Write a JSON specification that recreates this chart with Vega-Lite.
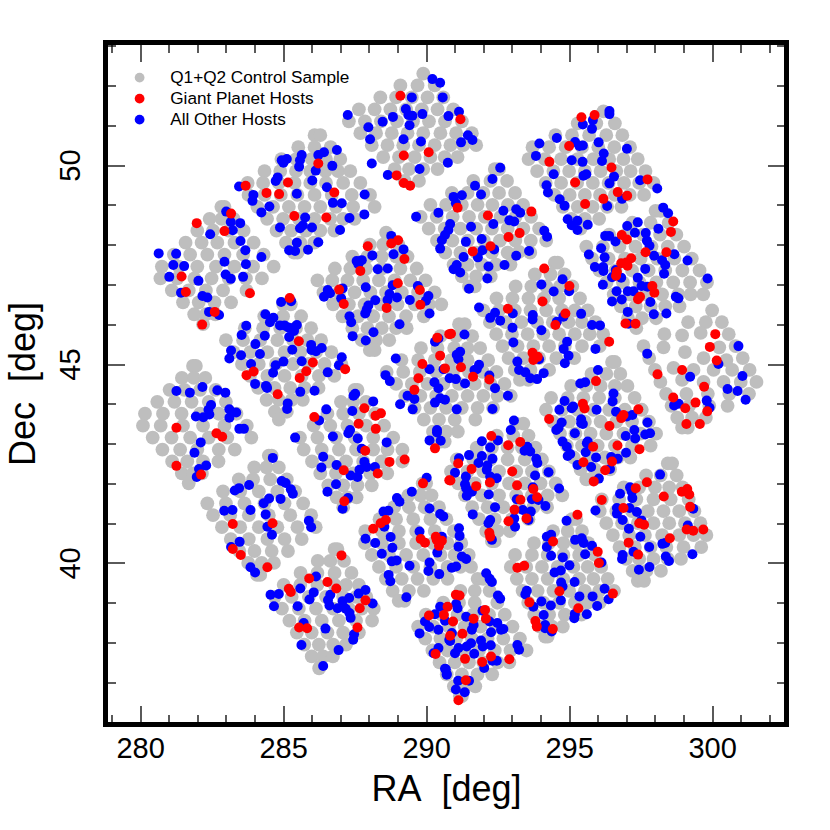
{"$schema":"https://vega.github.io/schema/vega-lite/v6.json","width":681,"height":682,"autosize":{"type":"none"},"padding":{"left":105.5,"top":42.5,"right":43.5,"bottom":105.5},"background":"white","view":{"stroke":"black","strokeWidth":5},"config":{"font":"Liberation Sans","axis":{"grid":false,"domain":false,"tickColor":"black","tickWidth":1.3,"labelColor":"black","titleColor":"black"}},"datasets":{"g":[
{"a":289.9,"d":52.3},{"a":289.1,"d":52.0},{"a":289.7,"d":52.0},{"a":290.3,"d":52.0},{"a":288.4,"d":51.7},{"a":288.95,"d":51.7},{"a":289.5,"d":51.7},{"a":290.05,"d":51.7},{"a":290.6,"d":51.7},{"a":287.65,"d":51.4},{"a":288.2,"d":51.4},{"a":288.75,"d":51.4},{"a":289.3,"d":51.4},{"a":289.85,"d":51.4},{"a":290.4,"d":51.4},{"a":290.95,"d":51.4},{"a":287.3,"d":51.1},{"a":287.86,"d":51.1},{"a":288.42,"d":51.1},{"a":288.98,"d":51.1},{"a":289.54,"d":51.1},{"a":290.1,"d":51.1},{"a":290.66,"d":51.1},{"a":291.25,"d":51.1},{"a":287.7,"d":50.8},{"a":288.25,"d":50.8},{"a":288.8,"d":50.8},{"a":289.35,"d":50.8},{"a":289.9,"d":50.8},{"a":290.5,"d":50.8},{"a":291.05,"d":50.8},{"a":291.6,"d":50.8},{"a":288.1,"d":50.5},{"a":288.65,"d":50.5},{"a":289.2,"d":50.5},{"a":289.75,"d":50.5},{"a":290.3,"d":50.5},{"a":290.85,"d":50.5},{"a":291.3,"d":50.5},{"a":291.75,"d":50.5},{"a":288.5,"d":50.2},{"a":289.05,"d":50.2},{"a":289.6,"d":50.2},{"a":290.15,"d":50.2},{"a":290.65,"d":50.2},{"a":291.1,"d":50.2},{"a":288.9,"d":49.9},{"a":289.4,"d":49.9},{"a":289.9,"d":49.9},{"a":290.4,"d":49.9},{"a":289.25,"d":49.6},{"a":289.75,"d":49.6},
{"a":296.2,"d":51.35},{"a":295.3,"d":51.05},{"a":295.95,"d":51.05},{"a":296.6,"d":51.05},{"a":294.52,"d":50.75},{"a":295.1,"d":50.75},{"a":295.7,"d":50.75},{"a":296.3,"d":50.75},{"a":296.86,"d":50.75},{"a":293.72,"d":50.45},{"a":294.3,"d":50.45},{"a":294.88,"d":50.45},{"a":295.45,"d":50.45},{"a":296.02,"d":50.45},{"a":296.58,"d":50.45},{"a":297.13,"d":50.45},{"a":293.58,"d":50.15},{"a":294.15,"d":50.15},{"a":294.72,"d":50.15},{"a":295.3,"d":50.15},{"a":295.85,"d":50.15},{"a":296.4,"d":50.15},{"a":296.9,"d":50.15},{"a":297.4,"d":50.15},{"a":293.88,"d":49.85},{"a":294.45,"d":49.85},{"a":295.0,"d":49.85},{"a":295.55,"d":49.85},{"a":296.1,"d":49.85},{"a":296.65,"d":49.85},{"a":297.15,"d":49.85},{"a":297.67,"d":49.85},{"a":294.18,"d":49.55},{"a":294.72,"d":49.55},{"a":295.28,"d":49.55},{"a":295.83,"d":49.55},{"a":296.38,"d":49.55},{"a":296.92,"d":49.55},{"a":297.45,"d":49.55},{"a":297.95,"d":49.55},{"a":294.48,"d":49.25},{"a":295.02,"d":49.25},{"a":295.55,"d":49.25},{"a":296.08,"d":49.25},{"a":296.6,"d":49.25},{"a":297.12,"d":49.25},{"a":297.62,"d":49.25},{"a":294.78,"d":48.95},{"a":295.3,"d":48.95},{"a":295.82,"d":48.95},{"a":296.33,"d":48.95},{"a":296.83,"d":48.95},{"a":295.08,"d":48.65},{"a":295.55,"d":48.65},{"a":296.05,"d":48.65},{"a":295.4,"d":48.4},
{"a":298.02,"d":48.85},{"a":298.2,"d":48.85},{"a":297.21,"d":48.55},{"a":297.85,"d":48.55},{"a":298.48,"d":48.55},{"a":296.4,"d":48.25},{"a":296.98,"d":48.25},{"a":297.58,"d":48.25},{"a":298.18,"d":48.25},{"a":298.75,"d":48.25},{"a":295.6,"d":47.95},{"a":296.18,"d":47.95},{"a":296.76,"d":47.95},{"a":297.32,"d":47.95},{"a":297.88,"d":47.95},{"a":298.45,"d":47.95},{"a":299.02,"d":47.95},{"a":295.8,"d":47.65},{"a":296.38,"d":47.65},{"a":296.95,"d":47.65},{"a":297.5,"d":47.65},{"a":298.08,"d":47.65},{"a":298.68,"d":47.65},{"a":299.29,"d":47.65},{"a":296.06,"d":47.35},{"a":296.62,"d":47.35},{"a":297.2,"d":47.35},{"a":297.78,"d":47.35},{"a":298.36,"d":47.35},{"a":298.96,"d":47.35},{"a":299.56,"d":47.35},{"a":296.31,"d":47.05},{"a":296.88,"d":47.05},{"a":297.46,"d":47.05},{"a":298.05,"d":47.05},{"a":298.64,"d":47.05},{"a":299.23,"d":47.05},{"a":299.82,"d":47.05},{"a":296.56,"d":46.75},{"a":297.12,"d":46.75},{"a":297.68,"d":46.75},{"a":298.25,"d":46.75},{"a":298.82,"d":46.75},{"a":299.25,"d":46.75},{"a":299.69,"d":46.75},{"a":296.81,"d":46.45},{"a":297.33,"d":46.45},{"a":297.85,"d":46.45},{"a":298.36,"d":46.45},{"a":298.86,"d":46.45},{"a":297.06,"d":46.15},{"a":297.55,"d":46.15},{"a":298.04,"d":46.15},{"a":297.35,"d":45.9},
{"a":300.0,"d":46.35},{"a":299.16,"d":46.05},{"a":299.78,"d":46.05},{"a":300.34,"d":46.05},{"a":298.33,"d":45.75},{"a":298.95,"d":45.72},{"a":299.6,"d":45.78},{"a":300.58,"d":45.75},{"a":297.6,"d":45.45},{"a":298.3,"d":45.42},{"a":299.05,"d":45.3},{"a":300.25,"d":45.42},{"a":300.82,"d":45.45},{"a":297.8,"d":45.15},{"a":299.7,"d":45.15},{"a":300.5,"d":45.1},{"a":301.07,"d":45.15},{"a":298.0,"d":44.85},{"a":298.65,"d":44.9},{"a":299.35,"d":44.85},{"a":300.05,"d":44.85},{"a":300.7,"d":44.85},{"a":301.31,"d":44.85},{"a":298.19,"d":44.55},{"a":298.95,"d":44.6},{"a":299.7,"d":44.55},{"a":300.4,"d":44.55},{"a":301.0,"d":44.55},{"a":301.55,"d":44.55},{"a":298.39,"d":44.25},{"a":299.1,"d":44.25},{"a":299.85,"d":44.25},{"a":300.6,"d":44.25},{"a":301.29,"d":44.25},{"a":298.58,"d":43.95},{"a":299.2,"d":43.95},{"a":299.9,"d":43.95},{"a":300.54,"d":43.95},{"a":298.78,"d":43.65},{"a":299.3,"d":43.65},{"a":299.78,"d":43.65},{"a":298.95,"d":43.4},{"a":299.15,"d":43.4},
{"a":292.4,"d":49.9},{"a":292.55,"d":49.9},{"a":291.65,"d":49.6},{"a":292.25,"d":49.6},{"a":292.83,"d":49.6},{"a":290.9,"d":49.3},{"a":291.45,"d":49.3},{"a":292.0,"d":49.3},{"a":292.55,"d":49.3},{"a":293.11,"d":49.3},{"a":290.15,"d":49.0},{"a":290.7,"d":49.0},{"a":291.25,"d":49.0},{"a":291.8,"d":49.0},{"a":292.32,"d":49.0},{"a":292.86,"d":49.0},{"a":293.39,"d":49.0},{"a":289.81,"d":48.7},{"a":290.37,"d":48.7},{"a":290.93,"d":48.7},{"a":291.5,"d":48.7},{"a":292.05,"d":48.7},{"a":292.6,"d":48.7},{"a":293.13,"d":48.7},{"a":293.67,"d":48.7},{"a":290.09,"d":48.4},{"a":290.65,"d":48.4},{"a":291.2,"d":48.4},{"a":291.75,"d":48.4},{"a":292.3,"d":48.4},{"a":292.85,"d":48.4},{"a":293.4,"d":48.4},{"a":293.95,"d":48.4},{"a":290.38,"d":48.1},{"a":290.92,"d":48.1},{"a":291.46,"d":48.1},{"a":292.02,"d":48.1},{"a":292.58,"d":48.1},{"a":293.12,"d":48.1},{"a":293.66,"d":48.1},{"a":294.2,"d":48.1},{"a":290.67,"d":47.8},{"a":291.2,"d":47.8},{"a":291.75,"d":47.8},{"a":292.3,"d":47.8},{"a":292.85,"d":47.8},{"a":293.64,"d":47.8},{"a":293.25,"d":47.82},{"a":290.96,"d":47.5},{"a":291.45,"d":47.5},{"a":291.95,"d":47.5},{"a":292.45,"d":47.5},{"a":292.95,"d":47.5},{"a":291.25,"d":47.2},{"a":291.75,"d":47.2},{"a":292.26,"d":47.2},{"a":291.5,"d":46.95},{"a":291.7,"d":46.95},
{"a":286.1,"d":50.75},{"a":286.3,"d":50.75},{"a":285.53,"d":50.45},{"a":286.1,"d":50.45},{"a":286.66,"d":50.45},{"a":284.94,"d":50.15},{"a":285.46,"d":50.15},{"a":286.0,"d":50.15},{"a":286.5,"d":50.15},{"a":287.0,"d":50.15},{"a":284.35,"d":49.85},{"a":284.9,"d":49.85},{"a":285.45,"d":49.85},{"a":285.95,"d":49.85},{"a":286.48,"d":49.85},{"a":286.92,"d":49.85},{"a":287.35,"d":49.85},{"a":283.76,"d":49.55},{"a":284.3,"d":49.55},{"a":284.85,"d":49.55},{"a":285.4,"d":49.55},{"a":285.95,"d":49.55},{"a":286.5,"d":49.55},{"a":287.1,"d":49.55},{"a":287.7,"d":49.55},{"a":283.79,"d":49.25},{"a":284.35,"d":49.25},{"a":284.92,"d":49.25},{"a":285.5,"d":49.25},{"a":286.1,"d":49.25},{"a":286.7,"d":49.25},{"a":287.4,"d":49.25},{"a":288.04,"d":49.25},{"a":284.1,"d":48.95},{"a":284.65,"d":48.95},{"a":285.2,"d":48.95},{"a":285.75,"d":48.95},{"a":286.3,"d":48.95},{"a":286.85,"d":48.95},{"a":287.45,"d":48.95},{"a":288.2,"d":48.95},{"a":284.44,"d":48.65},{"a":285.0,"d":48.65},{"a":285.55,"d":48.65},{"a":286.1,"d":48.65},{"a":286.65,"d":48.65},{"a":287.1,"d":48.65},{"a":287.5,"d":48.65},{"a":284.77,"d":48.35},{"a":285.28,"d":48.35},{"a":285.8,"d":48.35},{"a":286.3,"d":48.35},{"a":286.79,"d":48.35},{"a":285.1,"d":48.05},{"a":285.6,"d":48.05},{"a":286.09,"d":48.05},{"a":285.38,"d":47.8},{"a":285.5,"d":47.8},
{"a":282.84,"d":48.95},{"a":282.95,"d":48.95},{"a":282.43,"d":48.65},{"a":282.85,"d":48.65},{"a":283.27,"d":48.65},{"a":282.0,"d":48.35},{"a":282.55,"d":48.35},{"a":283.1,"d":48.35},{"a":283.62,"d":48.35},{"a":281.59,"d":48.05},{"a":282.15,"d":48.05},{"a":282.7,"d":48.05},{"a":283.3,"d":48.05},{"a":283.97,"d":48.05},{"a":281.18,"d":47.75},{"a":281.75,"d":47.75},{"a":282.35,"d":47.75},{"a":282.95,"d":47.75},{"a":283.6,"d":47.75},{"a":284.32,"d":47.75},{"a":280.76,"d":47.45},{"a":281.35,"d":47.45},{"a":282.0,"d":47.45},{"a":282.65,"d":47.45},{"a":283.3,"d":47.45},{"a":283.95,"d":47.45},{"a":284.67,"d":47.45},{"a":280.71,"d":47.15},{"a":281.3,"d":47.15},{"a":281.9,"d":47.15},{"a":282.5,"d":47.15},{"a":283.1,"d":47.15},{"a":283.7,"d":47.15},{"a":284.26,"d":47.15},{"a":281.11,"d":46.85},{"a":281.7,"d":46.85},{"a":282.3,"d":46.85},{"a":282.9,"d":46.85},{"a":283.72,"d":46.85},{"a":281.5,"d":46.55},{"a":282.05,"d":46.55},{"a":282.6,"d":46.55},{"a":283.18,"d":46.55},{"a":281.89,"d":46.25},{"a":282.3,"d":46.25},{"a":282.63,"d":46.25},{"a":282.2,"d":46.0},
{"a":288.6,"d":48.3},{"a":288.03,"d":48.0},{"a":288.5,"d":48.0},{"a":289.03,"d":48.0},{"a":287.42,"d":47.7},{"a":287.95,"d":47.7},{"a":288.45,"d":47.7},{"a":288.95,"d":47.7},{"a":289.35,"d":47.7},{"a":286.81,"d":47.4},{"a":287.35,"d":47.4},{"a":287.9,"d":47.4},{"a":288.45,"d":47.4},{"a":289.1,"d":47.4},{"a":289.67,"d":47.4},{"a":286.2,"d":47.1},{"a":286.72,"d":47.1},{"a":287.25,"d":47.1},{"a":287.8,"d":47.1},{"a":288.35,"d":47.1},{"a":288.9,"d":47.1},{"a":289.45,"d":47.1},{"a":289.98,"d":47.1},{"a":286.41,"d":46.8},{"a":286.95,"d":46.8},{"a":287.5,"d":46.8},{"a":288.05,"d":46.8},{"a":288.6,"d":46.8},{"a":289.15,"d":46.8},{"a":289.72,"d":46.8},{"a":290.3,"d":46.8},{"a":286.75,"d":46.5},{"a":287.3,"d":46.5},{"a":287.85,"d":46.5},{"a":288.42,"d":46.5},{"a":289.0,"d":46.5},{"a":289.6,"d":46.5},{"a":290.1,"d":46.5},{"a":290.53,"d":46.5},{"a":287.08,"d":46.2},{"a":287.62,"d":46.2},{"a":288.15,"d":46.2},{"a":288.7,"d":46.2},{"a":289.3,"d":46.2},{"a":289.92,"d":46.2},{"a":287.42,"d":45.9},{"a":287.95,"d":45.9},{"a":288.45,"d":45.9},{"a":288.95,"d":45.9},{"a":289.32,"d":45.9},{"a":287.75,"d":45.6},{"a":288.25,"d":45.6},{"a":288.71,"d":45.6},{"a":288.03,"d":45.35},{"a":288.2,"d":45.35},
{"a":294.5,"d":47.55},{"a":294.6,"d":47.55},{"a":293.8,"d":47.25},{"a":294.35,"d":47.25},{"a":294.84,"d":47.25},{"a":293.13,"d":46.95},{"a":293.68,"d":46.95},{"a":294.2,"d":46.95},{"a":294.68,"d":46.95},{"a":295.11,"d":46.95},{"a":292.46,"d":46.65},{"a":293.02,"d":46.65},{"a":293.58,"d":46.65},{"a":294.12,"d":46.65},{"a":294.65,"d":46.65},{"a":295.38,"d":46.65},{"a":292.0,"d":46.35},{"a":292.55,"d":46.35},{"a":293.1,"d":46.35},{"a":293.65,"d":46.35},{"a":294.2,"d":46.35},{"a":294.75,"d":46.35},{"a":295.2,"d":46.35},{"a":295.65,"d":46.35},{"a":292.23,"d":46.05},{"a":292.78,"d":46.05},{"a":293.33,"d":46.05},{"a":293.88,"d":46.05},{"a":294.43,"d":46.05},{"a":294.98,"d":46.05},{"a":295.45,"d":46.05},{"a":295.92,"d":46.05},{"a":292.45,"d":45.75},{"a":293.0,"d":45.75},{"a":293.55,"d":45.75},{"a":294.1,"d":45.75},{"a":294.65,"d":45.75},{"a":295.2,"d":45.75},{"a":295.72,"d":45.75},{"a":296.19,"d":45.75},{"a":292.67,"d":45.45},{"a":293.2,"d":45.45},{"a":293.75,"d":45.45},{"a":294.3,"d":45.45},{"a":294.85,"d":45.45},{"a":295.45,"d":45.45},{"a":296.07,"d":45.45},{"a":292.88,"d":45.15},{"a":293.4,"d":45.15},{"a":293.95,"d":45.15},{"a":294.55,"d":45.15},{"a":295.18,"d":45.15},{"a":293.1,"d":44.85},{"a":293.65,"d":44.85},{"a":294.3,"d":44.85},{"a":293.28,"d":44.6},{"a":293.57,"d":44.6},
{"a":285.0,"d":46.5},{"a":285.27,"d":46.5},{"a":284.34,"d":46.2},{"a":285.0,"d":46.2},{"a":285.63,"d":46.2},{"a":283.66,"d":45.9},{"a":284.3,"d":45.9},{"a":284.9,"d":45.9},{"a":285.45,"d":45.9},{"a":285.98,"d":45.9},{"a":283.0,"d":45.6},{"a":283.6,"d":45.6},{"a":284.2,"d":45.6},{"a":284.8,"d":45.6},{"a":285.35,"d":45.6},{"a":285.85,"d":45.6},{"a":286.33,"d":45.6},{"a":283.27,"d":45.3},{"a":283.85,"d":45.3},{"a":284.45,"d":45.3},{"a":285.05,"d":45.3},{"a":285.6,"d":45.3},{"a":286.15,"d":45.3},{"a":286.69,"d":45.3},{"a":283.56,"d":45.0},{"a":284.15,"d":45.0},{"a":284.75,"d":45.0},{"a":285.35,"d":45.0},{"a":285.9,"d":45.0},{"a":286.45,"d":45.0},{"a":287.04,"d":45.0},{"a":283.84,"d":44.7},{"a":284.45,"d":44.7},{"a":285.05,"d":44.7},{"a":285.65,"d":44.7},{"a":286.25,"d":44.7},{"a":286.79,"d":44.7},{"a":284.13,"d":44.4},{"a":284.7,"d":44.4},{"a":285.25,"d":44.4},{"a":285.75,"d":44.4},{"a":286.24,"d":44.4},{"a":284.42,"d":44.1},{"a":284.85,"d":44.1},{"a":285.3,"d":44.1},{"a":285.69,"d":44.1},{"a":284.71,"d":43.8},{"a":285.13,"d":43.8},{"a":284.85,"d":43.6},
{"a":291.15,"d":46.0},{"a":291.35,"d":46.0},{"a":290.5,"d":45.7},{"a":291.05,"d":45.7},{"a":291.61,"d":45.7},{"a":289.82,"d":45.4},{"a":290.4,"d":45.4},{"a":290.98,"d":45.4},{"a":291.45,"d":45.4},{"a":291.89,"d":45.4},{"a":289.14,"d":45.1},{"a":289.72,"d":45.1},{"a":290.3,"d":45.1},{"a":290.88,"d":45.1},{"a":291.45,"d":45.1},{"a":292.17,"d":45.1},{"a":288.62,"d":44.8},{"a":289.2,"d":44.8},{"a":289.78,"d":44.8},{"a":290.36,"d":44.8},{"a":290.94,"d":44.8},{"a":291.5,"d":44.8},{"a":291.98,"d":44.8},{"a":292.46,"d":44.8},{"a":288.95,"d":44.5},{"a":289.5,"d":44.5},{"a":290.05,"d":44.5},{"a":290.6,"d":44.5},{"a":291.15,"d":44.5},{"a":291.7,"d":44.5},{"a":292.25,"d":44.5},{"a":292.74,"d":44.5},{"a":289.27,"d":44.2},{"a":289.8,"d":44.2},{"a":290.35,"d":44.2},{"a":290.9,"d":44.2},{"a":291.45,"d":44.2},{"a":292.0,"d":44.2},{"a":292.5,"d":44.2},{"a":292.96,"d":44.2},{"a":289.6,"d":43.9},{"a":290.15,"d":43.9},{"a":290.7,"d":43.9},{"a":291.25,"d":43.9},{"a":291.8,"d":43.9},{"a":292.34,"d":43.9},{"a":289.92,"d":43.6},{"a":290.45,"d":43.6},{"a":291.0,"d":43.6},{"a":291.72,"d":43.6},{"a":290.24,"d":43.3},{"a":290.7,"d":43.3},{"a":291.11,"d":43.3},{"a":290.5,"d":43.05},{"a":290.65,"d":43.05},
{"a":296.5,"d":45.05},{"a":296.6,"d":45.05},{"a":295.78,"d":44.75},{"a":296.3,"d":44.75},{"a":296.79,"d":44.75},{"a":295.07,"d":44.45},{"a":295.6,"d":44.45},{"a":296.1,"d":44.45},{"a":296.6,"d":44.45},{"a":297.04,"d":44.45},{"a":294.37,"d":44.15},{"a":294.95,"d":44.15},{"a":295.5,"d":44.15},{"a":296.05,"d":44.15},{"a":296.6,"d":44.15},{"a":297.29,"d":44.15},{"a":294.19,"d":43.85},{"a":294.75,"d":43.85},{"a":295.3,"d":43.85},{"a":295.85,"d":43.85},{"a":296.4,"d":43.85},{"a":296.95,"d":43.85},{"a":297.54,"d":43.85},{"a":294.44,"d":43.55},{"a":295.0,"d":43.55},{"a":295.55,"d":43.55},{"a":296.1,"d":43.55},{"a":296.65,"d":43.55},{"a":297.2,"d":43.55},{"a":297.79,"d":43.55},{"a":294.68,"d":43.25},{"a":295.22,"d":43.25},{"a":295.75,"d":43.25},{"a":296.3,"d":43.25},{"a":296.9,"d":43.25},{"a":297.5,"d":43.25},{"a":298.04,"d":43.25},{"a":294.92,"d":42.95},{"a":295.45,"d":42.95},{"a":296.0,"d":42.95},{"a":296.6,"d":42.95},{"a":297.2,"d":42.95},{"a":297.85,"d":42.95},{"a":295.16,"d":42.65},{"a":295.7,"d":42.65},{"a":296.25,"d":42.65},{"a":296.7,"d":42.65},{"a":297.14,"d":42.65},{"a":295.4,"d":42.35},{"a":295.9,"d":42.35},{"a":296.43,"d":42.35},{"a":295.6,"d":42.1},{"a":295.85,"d":42.1},
{"a":281.85,"d":44.95},{"a":281.95,"d":44.95},{"a":281.46,"d":44.65},{"a":281.88,"d":44.65},{"a":282.28,"d":44.65},{"a":281.03,"d":44.35},{"a":281.55,"d":44.35},{"a":282.1,"d":44.35},{"a":282.64,"d":44.35},{"a":280.6,"d":44.05},{"a":281.2,"d":44.05},{"a":281.8,"d":44.05},{"a":282.4,"d":44.05},{"a":283.0,"d":44.05},{"a":280.17,"d":43.75},{"a":280.8,"d":43.75},{"a":281.45,"d":43.75},{"a":282.1,"d":43.75},{"a":282.75,"d":43.75},{"a":283.37,"d":43.75},{"a":280.1,"d":43.45},{"a":280.72,"d":43.45},{"a":281.5,"d":43.45},{"a":282.2,"d":43.45},{"a":282.95,"d":43.45},{"a":283.73,"d":43.45},{"a":280.44,"d":43.15},{"a":281.1,"d":43.15},{"a":281.75,"d":43.15},{"a":282.4,"d":43.15},{"a":283.05,"d":43.15},{"a":283.89,"d":43.15},{"a":280.78,"d":42.85},{"a":281.4,"d":42.85},{"a":282.0,"d":42.85},{"a":282.75,"d":42.85},{"a":283.31,"d":42.85},{"a":281.12,"d":42.55},{"a":281.65,"d":42.55},{"a":282.2,"d":42.55},{"a":282.74,"d":42.55},{"a":281.46,"d":42.25},{"a":281.85,"d":42.25},{"a":282.16,"d":42.25},{"a":281.7,"d":42.0},
{"a":287.5,"d":44.35},{"a":287.6,"d":44.35},{"a":287.02,"d":44.05},{"a":287.45,"d":44.05},{"a":287.9,"d":44.05},{"a":286.55,"d":43.75},{"a":287.1,"d":43.75},{"a":287.65,"d":43.75},{"a":288.22,"d":43.75},{"a":286.07,"d":43.45},{"a":286.65,"d":43.45},{"a":287.25,"d":43.45},{"a":287.9,"d":43.45},{"a":288.53,"d":43.45},{"a":285.59,"d":43.15},{"a":286.2,"d":43.15},{"a":286.85,"d":43.15},{"a":287.5,"d":43.15},{"a":288.15,"d":43.15},{"a":288.85,"d":43.15},{"a":285.72,"d":42.85},{"a":286.35,"d":42.85},{"a":286.95,"d":42.85},{"a":287.55,"d":42.85},{"a":288.15,"d":42.85},{"a":288.65,"d":42.85},{"a":289.17,"d":42.85},{"a":286.01,"d":42.55},{"a":286.6,"d":42.55},{"a":287.2,"d":42.55},{"a":287.8,"d":42.55},{"a":288.45,"d":42.55},{"a":289.17,"d":42.55},{"a":286.3,"d":42.25},{"a":286.85,"d":42.25},{"a":287.45,"d":42.25},{"a":288.05,"d":42.25},{"a":288.64,"d":42.25},{"a":286.58,"d":41.95},{"a":287.1,"d":41.95},{"a":287.6,"d":41.95},{"a":288.1,"d":41.95},{"a":286.87,"d":41.65},{"a":287.25,"d":41.65},{"a":287.57,"d":41.65},{"a":287.1,"d":41.4},
{"a":293.15,"d":43.5},{"a":293.4,"d":43.5},{"a":292.47,"d":43.2},{"a":293.05,"d":43.2},{"a":293.58,"d":43.2},{"a":291.77,"d":42.9},{"a":292.3,"d":42.9},{"a":292.85,"d":42.9},{"a":293.35,"d":42.9},{"a":293.82,"d":42.9},{"a":291.07,"d":42.6},{"a":291.65,"d":42.6},{"a":292.25,"d":42.6},{"a":292.85,"d":42.6},{"a":293.45,"d":42.6},{"a":294.05,"d":42.6},{"a":290.87,"d":42.3},{"a":291.45,"d":42.3},{"a":292.0,"d":42.3},{"a":292.55,"d":42.3},{"a":293.15,"d":42.3},{"a":293.7,"d":42.3},{"a":294.29,"d":42.3},{"a":291.12,"d":42.0},{"a":291.7,"d":42.0},{"a":292.3,"d":42.0},{"a":292.9,"d":42.0},{"a":293.45,"d":42.0},{"a":294.0,"d":42.0},{"a":294.53,"d":42.0},{"a":291.36,"d":41.7},{"a":291.95,"d":41.7},{"a":292.55,"d":41.7},{"a":293.15,"d":41.7},{"a":293.7,"d":41.7},{"a":294.25,"d":41.7},{"a":294.76,"d":41.7},{"a":291.61,"d":41.4},{"a":292.15,"d":41.4},{"a":292.7,"d":41.4},{"a":293.25,"d":41.4},{"a":293.75,"d":41.4},{"a":294.23,"d":41.4},{"a":291.85,"d":41.1},{"a":292.4,"d":41.1},{"a":293.0,"d":41.1},{"a":293.58,"d":41.1},{"a":292.1,"d":40.8},{"a":292.5,"d":40.8},{"a":292.93,"d":40.8},{"a":292.3,"d":40.55},{"a":292.4,"d":40.55},
{"a":298.45,"d":42.5},{"a":298.6,"d":42.5},{"a":297.69,"d":42.2},{"a":298.2,"d":42.2},{"a":298.76,"d":42.2},{"a":296.91,"d":41.9},{"a":297.45,"d":41.9},{"a":298.0,"d":41.9},{"a":298.5,"d":41.9},{"a":298.97,"d":41.9},{"a":296.14,"d":41.6},{"a":296.75,"d":41.6},{"a":297.35,"d":41.6},{"a":297.95,"d":41.6},{"a":298.55,"d":41.6},{"a":299.18,"d":41.6},{"a":296.07,"d":41.3},{"a":296.65,"d":41.3},{"a":297.2,"d":41.3},{"a":297.75,"d":41.3},{"a":298.3,"d":41.3},{"a":298.85,"d":41.3},{"a":299.38,"d":41.3},{"a":296.3,"d":41.0},{"a":296.85,"d":41.0},{"a":297.4,"d":41.0},{"a":297.95,"d":41.0},{"a":298.5,"d":41.0},{"a":299.05,"d":41.0},{"a":299.59,"d":41.0},{"a":296.53,"d":40.7},{"a":297.1,"d":40.7},{"a":297.65,"d":40.7},{"a":298.25,"d":40.7},{"a":298.85,"d":40.7},{"a":299.35,"d":40.7},{"a":299.8,"d":40.7},{"a":296.76,"d":40.4},{"a":297.3,"d":40.4},{"a":297.85,"d":40.4},{"a":298.4,"d":40.4},{"a":299.0,"d":40.4},{"a":299.62,"d":40.4},{"a":296.99,"d":40.1},{"a":297.45,"d":40.1},{"a":297.95,"d":40.1},{"a":298.45,"d":40.1},{"a":298.91,"d":40.1},{"a":297.22,"d":39.8},{"a":297.7,"d":39.8},{"a":298.21,"d":39.8},{"a":297.4,"d":39.55},{"a":297.62,"d":39.55},
{"a":284.5,"d":42.7},{"a":284.6,"d":42.7},{"a":283.99,"d":42.4},{"a":284.42,"d":42.4},{"a":284.85,"d":42.4},{"a":283.45,"d":42.1},{"a":283.95,"d":42.1},{"a":284.55,"d":42.1},{"a":285.13,"d":42.1},{"a":282.9,"d":41.8},{"a":283.5,"d":41.8},{"a":284.15,"d":41.8},{"a":284.8,"d":41.8},{"a":285.42,"d":41.8},{"a":282.35,"d":41.5},{"a":283.0,"d":41.5},{"a":283.65,"d":41.5},{"a":284.35,"d":41.5},{"a":285.05,"d":41.5},{"a":285.7,"d":41.5},{"a":282.55,"d":41.2},{"a":283.15,"d":41.2},{"a":283.8,"d":41.2},{"a":284.5,"d":41.2},{"a":285.25,"d":41.2},{"a":285.98,"d":41.2},{"a":282.86,"d":40.9},{"a":283.5,"d":40.9},{"a":284.15,"d":40.9},{"a":284.8,"d":40.9},{"a":285.5,"d":40.9},{"a":286.14,"d":40.9},{"a":283.17,"d":40.6},{"a":283.8,"d":40.6},{"a":284.45,"d":40.6},{"a":285.05,"d":40.6},{"a":285.65,"d":40.6},{"a":283.47,"d":40.3},{"a":284.0,"d":40.3},{"a":284.6,"d":40.3},{"a":285.17,"d":40.3},{"a":283.78,"d":40.0},{"a":284.25,"d":40.0},{"a":284.68,"d":40.0},{"a":284.09,"d":39.7},{"a":284.2,"d":39.7},
{"a":289.88,"d":42.0},{"a":290.0,"d":42.0},{"a":289.38,"d":41.7},{"a":289.8,"d":41.7},{"a":290.19,"d":41.7},{"a":288.88,"d":41.4},{"a":289.4,"d":41.4},{"a":289.95,"d":41.4},{"a":290.45,"d":41.4},{"a":288.37,"d":41.1},{"a":288.95,"d":41.1},{"a":289.55,"d":41.1},{"a":290.15,"d":41.1},{"a":290.71,"d":41.1},{"a":287.87,"d":40.8},{"a":288.45,"d":40.8},{"a":289.05,"d":40.8},{"a":289.65,"d":40.8},{"a":290.3,"d":40.8},{"a":290.97,"d":40.8},{"a":287.86,"d":40.5},{"a":288.45,"d":40.5},{"a":289.05,"d":40.5},{"a":289.65,"d":40.5},{"a":290.25,"d":40.5},{"a":290.75,"d":40.5},{"a":291.23,"d":40.5},{"a":288.1,"d":40.2},{"a":288.7,"d":40.2},{"a":289.3,"d":40.2},{"a":289.9,"d":40.2},{"a":290.5,"d":40.2},{"a":291.0,"d":40.2},{"a":291.49,"d":40.2},{"a":288.35,"d":39.9},{"a":288.95,"d":39.9},{"a":289.55,"d":39.9},{"a":290.15,"d":39.9},{"a":290.75,"d":39.9},{"a":291.2,"d":39.9},{"a":291.57,"d":39.9},{"a":288.59,"d":39.6},{"a":289.15,"d":39.6},{"a":289.7,"d":39.6},{"a":290.25,"d":39.6},{"a":290.75,"d":39.6},{"a":288.83,"d":39.3},{"a":289.4,"d":39.3},{"a":289.92,"d":39.3},{"a":289.04,"d":39.05},{"a":289.24,"d":39.05},
{"a":295.1,"d":41.1},{"a":295.25,"d":41.1},{"a":294.44,"d":40.8},{"a":294.95,"d":40.8},{"a":295.45,"d":40.8},{"a":293.77,"d":40.5},{"a":294.3,"d":40.5},{"a":294.8,"d":40.5},{"a":295.25,"d":40.5},{"a":295.67,"d":40.5},{"a":293.11,"d":40.2},{"a":293.7,"d":40.2},{"a":294.25,"d":40.2},{"a":294.8,"d":40.2},{"a":295.35,"d":40.2},{"a":295.9,"d":40.2},{"a":292.96,"d":39.9},{"a":293.5,"d":39.9},{"a":294.05,"d":39.9},{"a":294.6,"d":39.9},{"a":295.15,"d":39.9},{"a":295.65,"d":39.9},{"a":296.12,"d":39.9},{"a":293.17,"d":39.6},{"a":293.7,"d":39.6},{"a":294.25,"d":39.6},{"a":294.8,"d":39.6},{"a":295.35,"d":39.6},{"a":295.85,"d":39.6},{"a":296.35,"d":39.6},{"a":293.37,"d":39.3},{"a":293.9,"d":39.3},{"a":294.45,"d":39.3},{"a":295.0,"d":39.3},{"a":295.55,"d":39.3},{"a":296.05,"d":39.3},{"a":296.57,"d":39.3},{"a":293.57,"d":39.0},{"a":294.1,"d":39.0},{"a":294.65,"d":39.0},{"a":295.2,"d":39.0},{"a":295.65,"d":39.0},{"a":296.07,"d":39.0},{"a":293.78,"d":38.7},{"a":294.3,"d":38.7},{"a":294.85,"d":38.7},{"a":295.43,"d":38.7},{"a":293.98,"d":38.4},{"a":294.4,"d":38.4},{"a":294.78,"d":38.4},{"a":294.16,"d":38.15},{"a":294.25,"d":38.15},
{"a":286.8,"d":40.35},{"a":286.9,"d":40.35},{"a":286.21,"d":40.05},{"a":286.65,"d":40.05},{"a":287.13,"d":40.05},{"a":285.61,"d":39.75},{"a":286.2,"d":39.75},{"a":286.8,"d":39.75},{"a":287.39,"d":39.75},{"a":285.02,"d":39.45},{"a":285.6,"d":39.45},{"a":286.2,"d":39.45},{"a":286.8,"d":39.45},{"a":287.2,"d":39.45},{"a":287.65,"d":39.45},{"a":284.71,"d":39.15},{"a":285.3,"d":39.15},{"a":285.9,"d":39.15},{"a":286.5,"d":39.15},{"a":287.1,"d":39.15},{"a":287.55,"d":39.15},{"a":287.91,"d":39.15},{"a":284.96,"d":38.85},{"a":285.55,"d":38.85},{"a":286.15,"d":38.85},{"a":286.75,"d":38.85},{"a":287.3,"d":38.85},{"a":287.75,"d":38.85},{"a":288.17,"d":38.85},{"a":285.22,"d":38.55},{"a":285.75,"d":38.55},{"a":286.35,"d":38.55},{"a":286.95,"d":38.55},{"a":287.55,"d":38.55},{"a":288.11,"d":38.55},{"a":285.48,"d":38.25},{"a":286.0,"d":38.25},{"a":286.55,"d":38.25},{"a":287.1,"d":38.25},{"a":287.65,"d":38.25},{"a":285.74,"d":37.95},{"a":286.25,"d":37.95},{"a":286.75,"d":37.95},{"a":287.2,"d":37.95},{"a":286.0,"d":37.65},{"a":286.4,"d":37.65},{"a":286.74,"d":37.65},{"a":286.26,"d":37.35},{"a":286.3,"d":37.4},
{"a":291.8,"d":39.6},{"a":292.0,"d":39.6},{"a":291.2,"d":39.3},{"a":291.7,"d":39.3},{"a":292.22,"d":39.3},{"a":290.6,"d":39.0},{"a":291.15,"d":39.0},{"a":291.7,"d":39.0},{"a":292.49,"d":39.0},{"a":289.99,"d":38.7},{"a":290.55,"d":38.7},{"a":291.1,"d":38.7},{"a":291.65,"d":38.7},{"a":292.2,"d":38.7},{"a":292.75,"d":38.7},{"a":289.72,"d":38.4},{"a":290.25,"d":38.4},{"a":290.8,"d":38.4},{"a":291.35,"d":38.4},{"a":291.9,"d":38.4},{"a":292.45,"d":38.4},{"a":293.02,"d":38.4},{"a":289.97,"d":38.1},{"a":290.5,"d":38.1},{"a":291.05,"d":38.1},{"a":291.6,"d":38.1},{"a":292.15,"d":38.1},{"a":292.7,"d":38.1},{"a":293.28,"d":38.1},{"a":290.22,"d":37.8},{"a":290.75,"d":37.8},{"a":291.3,"d":37.8},{"a":291.85,"d":37.8},{"a":292.4,"d":37.8},{"a":292.95,"d":37.8},{"a":293.51,"d":37.8},{"a":290.47,"d":37.5},{"a":291.0,"d":37.5},{"a":291.5,"d":37.5},{"a":292.0,"d":37.5},{"a":292.5,"d":37.5},{"a":292.91,"d":37.5},{"a":290.72,"d":37.2},{"a":291.25,"d":37.2},{"a":291.8,"d":37.2},{"a":292.31,"d":37.2},{"a":290.97,"d":36.9},{"a":291.35,"d":36.9},{"a":291.72,"d":36.9},{"a":291.18,"d":36.65},{"a":291.25,"d":36.65}
],"b":[
{"a":290.22,"d":52.16},{"a":290.49,"d":52.07},{"a":289.5,"d":51.7},{"a":290.58,"d":51.7},{"a":287.26,"d":51.26},{"a":289.29,"d":51.41},{"a":288.84,"d":51.21},{"a":288.48,"d":51.09},{"a":289.38,"d":51.26},{"a":289.52,"d":51.24},{"a":289.87,"d":51.28},{"a":290.78,"d":51.23},{"a":287.98,"d":50.95},{"a":289.42,"d":51.0},{"a":288.04,"d":50.65},{"a":289.21,"d":50.65},{"a":289.82,"d":50.59},{"a":288.1,"d":50.04},{"a":288.66,"d":49.75},{"a":289.77,"d":49.9},{"a":290.76,"d":50.06},{"a":291.15,"d":51.34},{"a":291.46,"d":50.75},{"a":291.62,"d":50.63},{"a":291.22,"d":50.57},
{"a":286.88,"d":50.38},{"a":286.43,"d":50.32},{"a":286.23,"d":50.25},{"a":285.65,"d":50.25},{"a":285.59,"d":50.12},{"a":285.13,"d":50.15},{"a":284.95,"d":50.12},{"a":285.01,"d":50.06},{"a":285.56,"d":49.96},{"a":286.72,"d":49.98},{"a":286.14,"d":49.86},{"a":284.81,"d":49.69},{"a":284.74,"d":49.6},{"a":286.02,"d":49.61},{"a":286.53,"d":49.44},{"a":283.46,"d":49.46},{"a":283.96,"d":49.25},{"a":283.93,"d":49.1},{"a":285.48,"d":49.28},{"a":287.85,"d":49.26},{"a":286.74,"d":49.05},{"a":287.05,"d":49.04},{"a":284.52,"d":48.96},{"a":284.24,"d":48.81},{"a":287.84,"d":48.76},{"a":287.32,"d":48.67},{"a":285.77,"d":48.68},{"a":285.69,"d":48.48},{"a":285.59,"d":48.41},{"a":284.89,"d":48.43},{"a":286.01,"d":48.43},{"a":286.99,"d":48.37},{"a":285.48,"d":48.05},{"a":286.23,"d":48.06},{"a":285.21,"d":47.86},{"a":285.42,"d":47.84},{"a":285.87,"d":47.87},
{"a":283.01,"d":48.83},{"a":283.17,"d":48.57},{"a":283.5,"d":48.54},{"a":283.24,"d":48.36},{"a":282.45,"d":48.26},{"a":283.51,"d":48.09},{"a":283.68,"d":47.86},{"a":280.65,"d":47.78},{"a":281.26,"d":47.77},{"a":284.24,"d":47.69},{"a":282.95,"d":47.57},{"a":283.7,"d":47.51},{"a":281.16,"d":47.49},{"a":281.54,"d":47.46},{"a":281.02,"d":47.19},{"a":282.99,"d":47.25},{"a":283.17,"d":47.14},{"a":283.6,"d":47.19},{"a":282.04,"d":47.09},{"a":281.43,"d":46.79},{"a":282.18,"d":46.71},{"a":282.35,"d":46.67},{"a":282.41,"d":46.31},{"a":282.76,"d":46.23},
{"a":288.78,"d":48.22},{"a":288.12,"d":47.73},{"a":288.86,"d":47.76},{"a":289.21,"d":47.88},{"a":287.57,"d":47.59},{"a":287.75,"d":47.61},{"a":287.63,"d":47.51},{"a":288.31,"d":47.38},{"a":288.66,"d":47.4},{"a":286.56,"d":46.86},{"a":286.43,"d":46.69},{"a":286.64,"d":46.78},{"a":287.08,"d":46.9},{"a":287.89,"d":46.93},{"a":288.83,"d":46.98},{"a":287.03,"d":46.65},{"a":288.72,"d":46.76},{"a":288.65,"d":46.61},{"a":288.98,"d":46.67},{"a":288.22,"d":46.6},{"a":287.98,"d":46.47},{"a":287.92,"d":46.36},{"a":287.87,"d":46.27},{"a":289.43,"d":46.61},{"a":289.71,"d":46.96},{"a":290.08,"d":46.71},{"a":289.99,"d":46.59},{"a":290.12,"d":46.27},{"a":287.32,"d":46.2},{"a":287.38,"d":46.05},{"a":289.07,"d":46.0},{"a":288.16,"d":45.8},{"a":287.43,"d":45.7},{"a":287.89,"d":45.59},
{"a":284.93,"d":46.56},{"a":285.28,"d":46.58},{"a":284.38,"d":46.25},{"a":284.66,"d":46.16},{"a":284.54,"d":46.05},{"a":285.05,"d":45.97},{"a":285.38,"d":45.83},{"a":285.21,"d":45.68},{"a":285.48,"d":45.98},{"a":284.89,"d":45.97},{"a":285.18,"d":45.92},{"a":285.39,"d":45.92},{"a":283.71,"d":45.96},{"a":283.55,"d":45.73},{"a":284.36,"d":45.71},{"a":284.03,"d":45.5},{"a":283.18,"d":45.34},{"a":283.53,"d":45.22},{"a":284.19,"d":45.25},{"a":283.12,"d":45.14},{"a":285.32,"d":45.36},{"a":285.98,"d":45.48},{"a":285.99,"d":45.35},{"a":286.35,"d":45.4},{"a":286.15,"d":45.32},{"a":287.05,"d":45.17},{"a":283.88,"d":45.0},{"a":285.65,"d":45.07},{"a":285.01,"d":45.06},{"a":284.74,"d":44.97},{"a":284.65,"d":44.78},{"a":286.95,"d":44.97},{"a":286.56,"d":44.79},{"a":284.02,"d":44.5},{"a":284.4,"d":44.45},{"a":284.44,"d":44.4},{"a":285.6,"d":44.3},{"a":286.1,"d":44.33},{"a":285.16,"d":44.01},{"a":285.14,"d":43.87},
{"a":281.27,"d":44.32},{"a":281.74,"d":44.28},{"a":282.18,"d":44.42},{"a":282.7,"d":44.34},{"a":282.98,"d":44.28},{"a":282.48,"d":43.97},{"a":282.39,"d":43.85},{"a":283.12,"d":43.86},{"a":283.36,"d":43.78},{"a":281.95,"d":43.68},{"a":282.21,"d":43.66},{"a":282.42,"d":43.73},{"a":283.12,"d":43.65},{"a":283.47,"d":43.37},{"a":283.63,"d":43.37},{"a":282.12,"d":43.03},{"a":281.9,"d":42.77},{"a":282.31,"d":42.45},{"a":282.06,"d":42.36},{"a":281.98,"d":42.16},
{"a":287.52,"d":44.25},{"a":287.46,"d":44.2},{"a":288.15,"d":44.06},{"a":286.51,"d":43.86},{"a":287.42,"d":43.82},{"a":286.26,"d":43.58},{"a":287.34,"d":43.34},{"a":287.28,"d":43.26},{"a":287.61,"d":43.13},{"a":286.74,"d":43.18},{"a":285.42,"d":43.15},{"a":288.62,"d":43.03},{"a":287.75,"d":42.87},{"a":286.4,"d":42.67},{"a":286.87,"d":42.46},{"a":286.34,"d":42.4},{"a":287.84,"d":42.54},{"a":287.92,"d":42.41},{"a":288.21,"d":42.41},{"a":287.67,"d":42.34},{"a":287.36,"d":42.2},{"a":287.6,"d":42.16},{"a":286.85,"d":41.98},{"a":286.55,"d":41.79},{"a":287.27,"d":41.63},{"a":287.08,"d":41.36},
{"a":284.64,"d":42.64},{"a":284.95,"d":42.06},{"a":285.09,"d":42.01},{"a":285.27,"d":41.85},{"a":285.34,"d":41.74},{"a":283.81,"d":41.96},{"a":283.46,"d":41.88},{"a":283.31,"d":41.82},{"a":284.51,"d":41.62},{"a":284.32,"d":41.5},{"a":284.91,"d":41.61},{"a":282.94,"d":41.31},{"a":283.23,"d":41.33},{"a":283.86,"d":41.33},{"a":284.39,"d":41.22},{"a":284.45,"d":40.91},{"a":285.9,"d":41.06},{"a":285.98,"d":40.9},{"a":284.61,"d":40.71},{"a":283.48,"d":40.53},{"a":283.18,"d":40.4},{"a":283.86,"d":39.89},{"a":284.02,"d":39.76},
{"a":286.15,"d":39.66},{"a":285.6,"d":39.36},{"a":286.07,"d":39.26},{"a":284.56,"d":39.2},{"a":284.85,"d":39.22},{"a":284.68,"d":38.91},{"a":285.51,"d":38.91},{"a":285.92,"d":39.08},{"a":286.65,"d":39.2},{"a":286.57,"d":39.07},{"a":286.62,"d":38.93},{"a":286.91,"d":38.86},{"a":287.08,"d":39.04},{"a":287.31,"d":39.12},{"a":287.64,"d":39.23},{"a":287.88,"d":39.32},{"a":288.13,"d":38.98},{"a":287.19,"d":38.85},{"a":287.32,"d":38.74},{"a":287.36,"d":38.62},{"a":285.72,"d":38.49},{"a":286.48,"d":38.35},{"a":287.48,"d":38.21},{"a":287.45,"d":38.07},{"a":285.64,"d":37.94},{"a":286.94,"d":37.81},{"a":286.4,"d":37.41},
{"a":290.02,"d":42.14},{"a":289.5,"d":41.79},{"a":288.98,"d":41.63},{"a":289.07,"d":41.54},{"a":290.12,"d":41.37},{"a":288.51,"d":41.29},{"a":288.68,"d":41.31},{"a":290.49,"d":41.23},{"a":290.6,"d":41.17},{"a":288.54,"d":40.91},{"a":289.77,"d":40.79},{"a":287.88,"d":40.61},{"a":288.22,"d":40.5},{"a":288.76,"d":40.65},{"a":288.82,"d":40.38},{"a":288.45,"d":40.23},{"a":288.8,"d":40.04},{"a":288.97,"d":40.06},{"a":289.42,"d":39.93},{"a":290.12,"d":40.01},{"a":290.08,"d":39.8},{"a":290.46,"d":39.72},{"a":290.39,"d":40.26},{"a":290.55,"d":40.66},{"a":288.69,"d":39.7},{"a":288.75,"d":39.54},{"a":289.31,"d":39.14},{"a":291.15,"d":40.87},{"a":291.17,"d":40.68},{"a":291.13,"d":40.41},{"a":291.25,"d":40.16},{"a":291.4,"d":40.1},{"a":291.05,"d":39.91},{"a":290.9,"d":39.88},
{"a":290.29,"d":44.54},{"a":290.43,"d":44.39},{"a":289.35,"d":44.2},{"a":289.59,"d":44.12},{"a":290.31,"d":44.03},{"a":290.49,"d":44.14},{"a":290.66,"d":44.1},{"a":289.09,"d":43.99},{"a":289.53,"d":43.86},{"a":288.73,"d":44.57},{"a":290.38,"d":43.34},{"a":290.38,"d":43.28},{"a":290.12,"d":43.08},{"a":290.51,"d":43.07},{"a":290.31,"d":45.56},{"a":290.43,"d":45.64},{"a":288.94,"d":45.14},{"a":288.58,"d":44.72},{"a":290.12,"d":44.87},{"a":291.34,"d":45.74},{"a":291.07,"d":45.23},{"a":291.19,"d":45.31},{"a":291.13,"d":45.12},{"a":290.61,"d":44.87},{"a":291.85,"d":44.98},{"a":291.77,"d":44.87},{"a":291.69,"d":44.85},{"a":292.21,"d":44.71},{"a":290.82,"d":44.64},{"a":291.04,"d":44.62},{"a":291.36,"d":44.51},{"a":292.41,"d":44.39},{"a":291.07,"d":43.86},{"a":292.32,"d":43.87},{"a":292.86,"d":44.2},
{"a":292.59,"d":49.93},{"a":292.32,"d":49.65},{"a":291.71,"d":49.48},{"a":291.92,"d":49.26},{"a":290.96,"d":49.2},{"a":291.25,"d":49.24},{"a":291.04,"d":49.04},{"a":292.7,"d":48.85},{"a":293.15,"d":48.89},{"a":293.29,"d":48.8},{"a":292.91,"d":48.61},{"a":293.08,"d":48.58},{"a":292.35,"d":48.52},{"a":290.84,"d":48.52},{"a":290.78,"d":48.37},{"a":291.57,"d":48.45},{"a":290.66,"d":48.24},{"a":290.55,"d":48.11},{"a":294.13,"d":48.35},{"a":294.23,"d":48.2},{"a":291.39,"d":48.07},{"a":291.94,"d":48.14},{"a":292.38,"d":47.88},{"a":291.97,"d":47.86},{"a":291.81,"d":47.68},{"a":291.31,"d":47.69},{"a":290.49,"d":47.9},{"a":293.15,"d":47.72},{"a":293.6,"d":47.84},{"a":292.74,"d":47.49},{"a":292.18,"d":47.45},{"a":291.07,"d":47.49},{"a":290.96,"d":47.38},{"a":291.19,"d":47.3},{"a":292.14,"d":47.15},{"a":291.5,"d":46.89},{"a":289.65,"d":48.7},{"a":290.43,"d":48.8},
{"a":296.41,"d":51.36},{"a":296.41,"d":51.28},{"a":295.83,"d":51.13},{"a":295.48,"d":51.02},{"a":295.8,"d":50.91},{"a":294.57,"d":50.68},{"a":293.96,"d":50.54},{"a":295.21,"d":50.58},{"a":295.36,"d":50.48},{"a":295.48,"d":50.49},{"a":296.03,"d":50.57},{"a":297.02,"d":50.41},{"a":293.84,"d":50.23},{"a":296.21,"d":50.29},{"a":296.15,"d":50.1},{"a":295.09,"d":50.12},{"a":295.47,"d":50.08},{"a":294.46,"d":49.77},{"a":295.6,"d":49.77},{"a":295.5,"d":49.73},{"a":296.57,"d":49.71},{"a":296.41,"d":49.54},{"a":297.48,"d":49.62},{"a":298.08,"d":49.41},{"a":294.21,"d":49.49},{"a":294.26,"d":49.31},{"a":294.67,"d":49.14},{"a":294.84,"d":48.98},{"a":296.85,"d":49.15},{"a":296.33,"d":48.97},{"a":294.95,"d":48.64},{"a":295.29,"d":48.6},{"a":295.09,"d":48.49},{"a":295.29,"d":48.37},{"a":295.65,"d":48.5},
{"a":298.29,"d":48.93},{"a":298.46,"d":48.79},{"a":297.03,"d":48.47},{"a":297.4,"d":48.56},{"a":296.26,"d":48.22},{"a":296.4,"d":48.22},{"a":296.62,"d":48.08},{"a":297.3,"d":48.3},{"a":297.68,"d":48.29},{"a":298.12,"d":48.4},{"a":297.72,"d":48.1},{"a":297.81,"d":47.97},{"a":296.12,"d":47.91},{"a":295.69,"d":47.75},{"a":296.24,"d":47.68},{"a":297.97,"d":47.72},{"a":298.68,"d":47.76},{"a":299.14,"d":47.6},{"a":298.25,"d":47.61},{"a":298.36,"d":47.49},{"a":295.9,"d":47.44},{"a":296.19,"d":47.44},{"a":296.2,"d":47.34},{"a":297.66,"d":47.39},{"a":298.32,"d":47.27},{"a":296.5,"d":47.18},{"a":296.63,"d":47.36},{"a":296.82,"d":47.17},{"a":297.4,"d":47.17},{"a":299.84,"d":47.15},{"a":296.18,"d":46.99},{"a":297.53,"d":46.96},{"a":297.74,"d":46.94},{"a":297.05,"d":46.83},{"a":297.25,"d":46.83},{"a":296.66,"d":46.83},{"a":298.73,"d":46.69},{"a":298.82,"d":46.65},{"a":296.5,"d":46.57},{"a":296.84,"d":46.62},{"a":297.84,"d":46.56},{"a":297.05,"d":46.31},{"a":297.96,"d":46.25},{"a":298.4,"d":46.27},{"a":297.07,"d":46.01},
{"a":294.77,"d":47.13},{"a":294.03,"d":47.0},{"a":294.46,"d":46.82},{"a":295.0,"d":46.83},{"a":291.85,"d":46.42},{"a":292.41,"d":46.29},{"a":292.24,"d":46.16},{"a":292.59,"d":46.09},{"a":293.03,"d":46.27},{"a":293.73,"d":46.23},{"a":293.72,"d":46.12},{"a":295.42,"d":46.26},{"a":294.8,"d":46.19},{"a":294.57,"d":46.06},{"a":293.02,"d":45.91},{"a":294.03,"d":45.85},{"a":295.8,"d":45.98},{"a":296.08,"d":45.97},{"a":293.05,"d":45.54},{"a":294.93,"d":45.56},{"a":294.81,"d":45.38},{"a":295.92,"d":45.38},{"a":294.98,"d":45.21},{"a":294.85,"d":45.02},{"a":293.19,"d":45.06},{"a":293.25,"d":44.85},{"a":293.47,"d":44.79},{"a":293.95,"d":45.12},{"a":293.64,"d":44.64},{"a":293.88,"d":44.62},{"a":294.11,"d":44.77},
{"a":300.92,"d":45.45},{"a":297.73,"d":45.26},{"a":300.22,"d":45.0},{"a":301.06,"d":44.7},{"a":299.23,"d":44.68},{"a":300.54,"d":44.37},{"a":300.89,"d":44.32},{"a":301.17,"d":44.1},{"a":299.81,"d":44.08},{"a":299.91,"d":43.9},{"a":298.83,"d":44.0},{"a":298.67,"d":43.96},
{"a":296.01,"d":44.85},{"a":295.39,"d":44.51},{"a":295.56,"d":44.54},{"a":296.55,"d":44.26},{"a":296.52,"d":44.06},{"a":294.84,"d":44.07},{"a":295.14,"d":43.93},{"a":295.09,"d":43.89},{"a":294.66,"d":43.85},{"a":295.96,"d":43.85},{"a":296.64,"d":43.8},{"a":295.42,"d":43.61},{"a":295.48,"d":43.49},{"a":294.74,"d":43.53},{"a":294.63,"d":43.39},{"a":294.55,"d":43.34},{"a":295.2,"d":43.26},{"a":297.21,"d":43.72},{"a":297.02,"d":43.68},{"a":297.74,"d":43.53},{"a":297.28,"d":43.34},{"a":296.98,"d":43.19},{"a":297.31,"d":43.13},{"a":297.83,"d":43.26},{"a":297.66,"d":43.23},{"a":294.77,"d":43.05},{"a":294.92,"d":42.92},{"a":295.65,"d":43.05},{"a":295.58,"d":42.78},{"a":296.99,"d":42.77},{"a":295.94,"d":42.65},{"a":295.04,"d":42.74},{"a":294.95,"d":42.69},{"a":296.47,"d":42.66},{"a":296.7,"d":42.62},{"a":295.29,"d":42.46},{"a":295.77,"d":42.41},{"a":296.43,"d":42.36},{"a":296.04,"d":42.12},{"a":295.42,"d":43.51},{"a":295.62,"d":43.01},
{"a":293.07,"d":43.58},{"a":292.96,"d":43.34},{"a":292.51,"d":43.08},{"a":291.95,"d":43.06},{"a":292.24,"d":42.9},{"a":291.5,"d":42.71},{"a":291.95,"d":42.69},{"a":292.32,"d":42.62},{"a":291.83,"d":42.51},{"a":291.15,"d":42.63},{"a":292.14,"d":42.45},{"a":292.12,"d":42.34},{"a":291.01,"d":42.27},{"a":293.54,"d":42.92},{"a":293.44,"d":42.82},{"a":293.64,"d":42.8},{"a":293.85,"d":42.62},{"a":293.89,"d":42.51},{"a":294.28,"d":42.28},{"a":293.81,"d":42.2},{"a":292.47,"d":42.13},{"a":292.24,"d":42.17},{"a":291.39,"d":42.17},{"a":291.36,"d":41.98},{"a":291.4,"d":41.88},{"a":291.6,"d":41.79},{"a":291.42,"d":41.69},{"a":294.65,"d":41.87},{"a":293.73,"d":41.9},{"a":292.19,"d":41.72},{"a":293.7,"d":41.6},{"a":293.93,"d":41.58},{"a":294.17,"d":41.43},{"a":292.41,"d":41.4},{"a":293.17,"d":41.6},{"a":291.63,"d":41.22},{"a":293.38,"d":41.33},{"a":293.66,"d":41.29},{"a":292.24,"d":41.08},{"a":292.18,"d":41.0},{"a":293.58,"d":41.08},{"a":293.08,"d":41.12},{"a":293.11,"d":40.91},{"a":292.3,"d":40.58},
{"a":298.18,"d":42.22},{"a":297.13,"d":41.9},{"a":296.78,"d":41.74},{"a":297.19,"d":41.79},{"a":297.21,"d":41.63},{"a":296.67,"d":41.38},{"a":297.11,"d":41.38},{"a":297.37,"d":41.28},{"a":296.67,"d":41.24},{"a":295.92,"d":41.32},{"a":296.87,"d":41.08},{"a":297.53,"d":41.07},{"a":297.09,"d":40.86},{"a":297.49,"d":40.66},{"a":299.15,"d":40.94},{"a":299.34,"d":41.36},{"a":298.26,"d":40.48},{"a":298.36,"d":40.5},{"a":297.8,"d":40.4},{"a":297.25,"d":40.28},{"a":296.87,"d":40.2},{"a":296.85,"d":40.1},{"a":298.38,"d":40.16},{"a":298.49,"d":40.05},{"a":299.31,"d":40.22},{"a":297.44,"d":39.83},{"a":297.81,"d":39.9},
{"a":294.91,"d":41.06},{"a":294.22,"d":40.66},{"a":294.37,"d":40.71},{"a":294.22,"d":40.4},{"a":295.21,"d":40.58},{"a":295.44,"d":40.62},{"a":295.51,"d":40.5},{"a":295.8,"d":40.43},{"a":295.56,"d":40.22},{"a":294.37,"d":40.18},{"a":294.78,"d":40.14},{"a":295.01,"d":39.94},{"a":294.71,"d":39.81},{"a":294.49,"d":39.76},{"a":294.72,"d":39.51},{"a":294.77,"d":39.41},{"a":295.19,"d":39.52},{"a":293.52,"d":39.3},{"a":293.47,"d":39.21},{"a":296.24,"d":39.35},{"a":296.13,"d":40.01},{"a":295.82,"d":39.16},{"a":296.38,"d":39.09},{"a":295.36,"d":39.16},{"a":294.71,"d":39.06},{"a":294.03,"d":39.03},{"a":293.75,"d":38.9},{"a":294.36,"d":38.93},{"a":295.98,"d":38.92},{"a":295.62,"d":38.71},{"a":295.2,"d":38.72},{"a":295.18,"d":38.61},{"a":294.11,"d":38.69},{"a":294.16,"d":38.44},{"a":294.16,"d":38.36},{"a":294.39,"d":38.28},
{"a":292.1,"d":39.74},{"a":292.22,"d":39.6},{"a":292.3,"d":39.52},{"a":292.51,"d":39.18},{"a":292.59,"d":39.1},{"a":291.4,"d":38.65},{"a":291.1,"d":38.86},{"a":291.05,"d":38.97},{"a":291.97,"d":38.8},{"a":292.22,"d":38.53},{"a":292.49,"d":38.49},{"a":292.7,"d":38.34},{"a":292.62,"d":38.32},{"a":291.6,"d":38.32},{"a":291.66,"d":38.44},{"a":292.27,"d":38.26},{"a":290.9,"d":38.24},{"a":290.84,"d":38.04},{"a":291.57,"d":37.98},{"a":291.92,"d":38.05},{"a":291.98,"d":37.9},{"a":292.26,"d":37.93},{"a":293.19,"d":37.94},{"a":293.25,"d":37.82},{"a":291.42,"d":37.9},{"a":291.13,"d":37.86},{"a":291.01,"d":37.73},{"a":291.68,"d":37.72},{"a":292.32,"d":37.54},{"a":292.47,"d":37.54},{"a":292.03,"d":37.36},{"a":290.69,"d":37.33},{"a":290.72,"d":37.21},{"a":291.12,"d":37.04},{"a":291.5,"d":37.04},{"a":291.04,"d":36.82},{"a":291.35,"d":36.75},
{"a":290.49,"d":38.9},{"a":290.31,"d":38.71},{"a":289.96,"d":38.53},{"a":290.11,"d":38.39},{"a":290.43,"d":38.32},{"a":290.66,"d":38.55},{"a":289.77,"d":38.23},{"a":290.43,"d":37.86},{"a":290.26,"d":37.73},{"a":290.66,"d":37.34},{"a":290.72,"d":37.19},{"a":290.81,"d":38.07}
],"r":[
{"a":289.1,"d":51.74},{"a":289.22,"d":50.24},{"a":290.09,"d":50.32},{"a":288.97,"d":49.74},{"a":289.22,"d":49.55},{"a":289.44,"d":49.48},{"a":291.2,"d":51.15},
{"a":286.23,"d":50.04},{"a":283.69,"d":49.48},{"a":285.17,"d":49.56},{"a":284.42,"d":49.3},{"a":284.86,"d":49.27},{"a":286.79,"d":49.31},{"a":285.39,"d":48.72},{"a":286.51,"d":48.68},
{"a":283.18,"d":48.78},{"a":281.98,"d":48.54},{"a":282.95,"d":48.34},{"a":281.45,"d":47.2},{"a":281.6,"d":46.81},{"a":283.84,"d":46.78},{"a":282.61,"d":46.31},{"a":282.17,"d":45.99},
{"a":287.96,"d":47.96},{"a":288.78,"d":48.03},{"a":289.02,"d":48.11},{"a":289.24,"d":47.64},{"a":287.7,"d":47.34},{"a":289.01,"d":47.03},{"a":286.96,"d":46.87},{"a":287.12,"d":46.51},{"a":288.62,"d":46.41},{"a":289.78,"d":46.86},{"a":289.8,"d":46.49},
{"a":285.23,"d":46.66},{"a":285.55,"d":45.57},{"a":286.04,"d":45.04},{"a":283.97,"d":44.81},{"a":285.81,"d":44.82},{"a":283.72,"d":44.72},{"a":287.17,"d":44.87},{"a":285.58,"d":44.65},{"a":284.81,"d":44.24},
{"a":281.27,"d":43.4},{"a":282.67,"d":43.26},{"a":282.87,"d":43.17},{"a":281.27,"d":42.44},{"a":282.13,"d":42.22},
{"a":287.84,"d":43.89},{"a":288.42,"d":43.76},{"a":288.23,"d":43.7},{"a":287.64,"d":43.5},{"a":288.24,"d":43.37},{"a":286.09,"d":43.67},{"a":287.87,"d":42.82},{"a":288.72,"d":42.54},{"a":289.25,"d":42.6},{"a":287.12,"d":42.33},{"a":288.31,"d":42.25},{"a":287.14,"d":41.55},
{"a":283.24,"d":40.98},{"a":284.63,"d":41.0},{"a":283.24,"d":40.35},{"a":283.52,"d":40.2},{"a":284.45,"d":39.89},
{"a":287.04,"d":40.19},{"a":285.91,"d":39.61},{"a":286.55,"d":39.52},{"a":286.86,"d":39.36},{"a":285.2,"d":39.35},{"a":285.27,"d":39.27},{"a":287.88,"d":39.06},{"a":287.68,"d":38.86},{"a":285.56,"d":38.38},{"a":285.84,"d":38.36},{"a":287.6,"d":38.38},
{"a":289.89,"d":42.0},{"a":290.81,"d":42.08},{"a":288.15,"d":40.86},{"a":288.41,"d":41.0},{"a":288.59,"d":41.08},{"a":289.81,"d":40.6},{"a":289.96,"d":40.51},{"a":290.34,"d":40.66},{"a":290.55,"d":40.56},{"a":290.37,"d":40.58},{"a":290.45,"d":40.43},
{"a":290.39,"d":45.66},{"a":290.81,"d":45.75},{"a":290.49,"d":45.21},{"a":289.87,"d":45.0},{"a":290.66,"d":44.89},{"a":289.73,"d":44.64},{"a":289.59,"d":44.35},{"a":290.31,"d":42.88},{"a":290.87,"d":45.76},{"a":291.22,"d":44.92},{"a":291.64,"d":44.68},{"a":292.21,"d":44.61},
{"a":291.1,"d":48.93},{"a":292.16,"d":48.73},{"a":293.68,"d":48.83},{"a":292.88,"d":48.19},{"a":293.27,"d":48.29},{"a":292.25,"d":47.96},{"a":291.63,"d":47.83},
{"a":295.43,"d":51.2},{"a":295.89,"d":51.26},{"a":295.0,"d":50.48},{"a":294.31,"d":50.08},{"a":296.48,"d":49.94},{"a":295.21,"d":49.56},{"a":297.74,"d":49.64},{"a":296.7,"d":49.32},{"a":297.03,"d":49.23},{"a":296.2,"d":49.15},{"a":295.56,"d":49.02},
{"a":298.64,"d":48.58},{"a":298.56,"d":48.32},{"a":296.84,"d":48.24},{"a":297.02,"d":48.13},{"a":297.67,"d":47.81},{"a":298.4,"d":47.81},{"a":297.17,"d":47.66},{"a":296.82,"d":47.53},{"a":297.0,"d":47.55},{"a":297.04,"d":47.47},{"a":296.67,"d":47.32},{"a":296.64,"d":47.22},{"a":297.91,"d":46.96},{"a":297.98,"d":46.79},{"a":297.48,"d":46.69},{"a":297.41,"d":46.63},{"a":296.97,"d":46.02},{"a":297.32,"d":46.01},
{"a":294.13,"d":47.4},{"a":295.01,"d":46.96},{"a":294.07,"d":46.57},{"a":292.86,"d":46.39},{"a":294.87,"d":46.27},{"a":294.52,"d":45.98},{"a":296.4,"d":45.56},{"a":293.72,"d":45.28},{"a":293.9,"d":45.18},{"a":293.75,"d":45.1},
{"a":300.11,"d":45.75},{"a":299.92,"d":45.43},{"a":300.16,"d":45.09},{"a":298.09,"d":44.74},{"a":298.95,"d":44.85},{"a":299.72,"d":44.43},{"a":298.64,"d":44.16},{"a":299.42,"d":44.03},{"a":299.06,"d":43.89},{"a":299.83,"d":43.81},{"a":299.1,"d":43.49},{"a":299.57,"d":43.49},
{"a":295.94,"d":44.57},{"a":295.48,"d":44.0},{"a":295.54,"d":43.88},{"a":297.42,"d":43.86},{"a":294.3,"d":43.62},{"a":296.41,"d":43.44},{"a":296.9,"d":43.72},{"a":296.82,"d":43.64},{"a":295.84,"d":42.92},{"a":296.69,"d":42.95},{"a":297.46,"d":42.86},{"a":295.5,"d":42.53},{"a":296.5,"d":42.55},{"a":296.26,"d":42.33},{"a":295.86,"d":42.05},
{"a":292.28,"d":43.19},{"a":292.87,"d":42.96},{"a":293.29,"d":43.04},{"a":291.12,"d":42.5},{"a":291.59,"d":42.36},{"a":290.85,"d":42.07},{"a":293.01,"d":42.3},{"a":292.23,"d":42.02},{"a":293.18,"d":41.95},{"a":291.75,"d":41.93},{"a":293.75,"d":41.86},{"a":293.3,"d":41.59},{"a":293.88,"d":41.65},{"a":293.09,"d":41.34},{"a":293.51,"d":41.12},{"a":292.88,"d":41.05},{"a":292.21,"d":40.76},{"a":292.24,"d":40.66},
{"a":297.72,"d":42.03},{"a":297.33,"d":41.88},{"a":298.94,"d":41.79},{"a":299.13,"d":41.86},{"a":299.2,"d":41.72},{"a":298.31,"d":41.67},{"a":296.14,"d":41.58},{"a":296.9,"d":41.38},{"a":299.23,"d":41.41},{"a":297.45,"d":41.0},{"a":297.62,"d":40.96},{"a":299.11,"d":40.84},{"a":299.34,"d":40.81},{"a":299.69,"d":40.84},{"a":298.52,"d":40.62},{"a":297.08,"d":40.51},{"a":297.41,"d":40.21},
{"a":295.29,"d":41.21},{"a":294.44,"d":40.54},{"a":296.0,"d":40.28},{"a":293.19,"d":39.88},{"a":293.43,"d":39.93},{"a":296.04,"d":40.0},{"a":294.66,"d":39.29},{"a":296.53,"d":39.23},{"a":293.61,"d":39.01},{"a":295.32,"d":38.86},{"a":293.82,"d":38.54},{"a":293.87,"d":38.4},{"a":294.43,"d":38.34},
{"a":291.04,"d":39.2},{"a":291.17,"d":39.18},{"a":290.75,"d":38.9},{"a":290.62,"d":38.69},{"a":292.06,"d":38.82},{"a":291.66,"d":38.6},{"a":292.09,"d":38.6},{"a":290.94,"d":38.53},{"a":291.27,"d":38.22},{"a":290.84,"d":38.17},{"a":291.36,"d":37.59},{"a":292.27,"d":37.65},{"a":291.96,"d":37.51},{"a":292.91,"d":37.58},{"a":291.39,"d":37.05},{"a":291.13,"d":36.55},{"a":290.1,"d":38.68},{"a":290.33,"d":37.71}
]},"resolve":{"axis":{"x":"independent","y":"independent"}},"encoding":{"x":{"field":"a","type":"quantitative"},"y":{"field":"d","type":"quantitative"}},"layer":[{"data":{"name":"g"},"mark":{"type":"circle","size":190,"opacity":1},"encoding":{"x":{"field":"a","type":"quantitative","scale":{"domain":[278.79,302.6],"nice":false,"zero":false},"axis":{"orient":"bottom","values":[280,285,290,295,300],"tickSize":-19,"labelFontSize":29,"labelPadding":29,"format":"d","title":"RA\u00a0\u00a0[deg]","titleFontSize":36,"titleFontWeight":"normal","titlePadding":9}},"y":{"field":"d","type":"quantitative","scale":{"domain":[35.94,53.08],"nice":false,"zero":false},"axis":{"orient":"left","values":[40,45,50],"tickSize":-19,"labelFontSize":29,"labelPadding":39,"labelAngle":-90,"labelAlign":"center","labelBaseline":"bottom","format":"d","title":"Dec\u00a0\u00a0[deg]","titleFontSize":36,"titleFontWeight":"normal","titlePadding":14}},"color":{"datum":"Q1+Q2 Control Sample","scale":{"domain":["Q1+Q2 Control Sample","Giant Planet Hosts","All Other Hosts"],"range":["#bebebe","#ff0000","#0000ff"]},"legend":{"orient":"none","legendX":25.5,"legendY":26.5,"title":null,"padding":0,"symbolSize":96,"symbolType":"circle","labelFontSize":17.2,"labelColor":"black","labelOffset":22,"labelLimit":400,"rowPadding":3,"symbolOpacity":1}}}},{"data":{"name":"b"},"mark":{"type":"circle","size":100,"opacity":1},"encoding":{"x":{"field":"a","type":"quantitative","axis":{"orient":"bottom","values":[279,281,282,283,284,286,287,288,289,291,292,293,294,296,297,298,299,301,302],"tickSize":-10,"labels":false,"title":null}},"y":{"field":"d","type":"quantitative","axis":{"orient":"left","values":[36,37,38,39,41,42,43,44,46,47,48,49,51,52,53],"tickSize":-10,"labels":false,"title":null}},"color":{"datum":"All Other Hosts"}}},{"data":{"name":"r"},"mark":{"type":"circle","size":100,"opacity":1},"encoding":{"x":{"field":"a","type":"quantitative","axis":{"orient":"top","values":[280,285,290,295,300],"tickSize":-19,"labels":false,"title":null}},"y":{"field":"d","type":"quantitative","axis":{"orient":"right","values":[40,45,50],"tickSize":-19,"labels":false,"title":null}},"color":{"datum":"Giant Planet Hosts"}}},{"data":{"name":"r"},"mark":{"type":"circle","size":100,"opacity":0},"encoding":{"x":{"field":"a","type":"quantitative","axis":{"orient":"top","values":[279,281,282,283,284,286,287,288,289,291,292,293,294,296,297,298,299,301,302],"tickSize":-10,"labels":false,"title":null}},"y":{"field":"d","type":"quantitative","axis":{"orient":"right","values":[36,37,38,39,41,42,43,44,46,47,48,49,51,52,53],"tickSize":-10,"labels":false,"title":null}}}}]}
